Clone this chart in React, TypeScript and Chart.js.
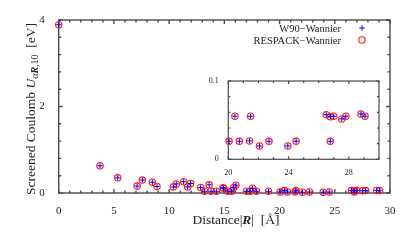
import React, { useEffect, useRef } from "react";
import { Chart, registerables } from "chart.js";

Chart.register(...registerables);

// ---- data ----
const distances = [
  0.0, 3.74, 5.34, 7.1, 7.57, 8.48, 8.9, 10.38, 10.65, 11.32, 11.68, 11.95,
  12.86, 13.22, 13.62, 13.8, 14.28, 14.88, 14.93, 15.3, 15.67, 15.85, 16.05,
  17.0, 17.35, 17.55, 17.9, 19.0, 20.05, 20.44, 20.73, 21.41, 21.48, 22.07,
  22.7, 23.95, 24.5, 26.5, 26.77, 26.77, 27.0, 27.53, 27.8, 28.8, 29.07,
];
const w90Values = [
  3.89, 0.63, 0.35, 0.16, 0.3, 0.25, 0.15, 0.14, 0.21, 0.26, 0.14, 0.22,
  0.13, 0.04, 0.19, 0.04, 0.04, 0.12, 0.11, 0.04, 0.04, 0.13, 0.18,
  0.04, 0.04, 0.11, 0.04, 0.04, 0.023, 0.055, 0.023, 0.0235, 0.055, 0.017,
  0.023, 0.017, 0.023, 0.057, 0.0545, 0.023, 0.055, 0.0515, 0.055, 0.058, 0.055,
];
const respackValues = [
  3.89, 0.63, 0.35, 0.16, 0.3, 0.25, 0.15, 0.14, 0.21, 0.26, 0.14, 0.22,
  0.13, 0.04, 0.19, 0.04, 0.04, 0.12, 0.11, 0.04, 0.04, 0.13, 0.18,
  0.04, 0.04, 0.11, 0.04, 0.04, 0.023, 0.055, 0.023, 0.0235, 0.055, 0.017,
  0.023, 0.017, 0.023, 0.057, 0.0545, 0.023, 0.055, 0.0515, 0.055, 0.058, 0.055,
];
const seriesLabels = ["W90\u2212Wannier", "RESPACK\u2212Wannier"];
const mainXLabels = [0, 5, 10, 15, 20, 25, 30];
const mainYLabels = [0, 2, 4];
const insetXLabels = [20, 24, 28];
const insetYLabels = [0, 0.1];

// ---- styles ----
const SERIF = '"Liberation Serif", "Times New Roman", serif';
const FRAME = "#4a4a4a";
const TEXT = "#222";
const BLUE = "#0000ff";
const RED = "#ff1a1a";

const near = (list: number[], v: number) => list.some((l) => Math.abs(l - v) < 1e-6);

type Run = { text: string; font: string; dy?: number };
function runsWidth(ctx: CanvasRenderingContext2D, runs: Run[]) {
  let w = 0;
  for (const r of runs) {
    ctx.font = r.font;
    w += ctx.measureText(r.text).width;
  }
  return w;
}
function drawRuns(ctx: CanvasRenderingContext2D, runs: Run[], x: number, y: number) {
  let cx = x;
  for (const r of runs) {
    ctx.font = r.font;
    ctx.fillText(r.text, cx, y + (r.dy || 0));
    cx += ctx.measureText(r.text).width;
  }
}

function framePlugin(lw: number, major: number, minor: number) {
  return {
    id: "frame",
    beforeDatasetsDraw(chart: any) {
      const { ctx, chartArea: a, scales } = chart;
      ctx.save();
      ctx.strokeStyle = FRAME;
      ctx.lineWidth = lw;
      ctx.beginPath();
      const xs = scales.x;
      xs.ticks.forEach((t: any) => {
        const p = xs.getPixelForValue(t.value);
        const len = t.label !== "" ? major : minor;
        ctx.moveTo(p, a.bottom);
        ctx.lineTo(p, a.bottom - len);
        ctx.moveTo(p, a.top);
        ctx.lineTo(p, a.top + len);
      });
      const ys = scales.y;
      ys.ticks.forEach((t: any) => {
        const p = ys.getPixelForValue(t.value);
        const len = t.label !== "" ? major : minor;
        ctx.moveTo(a.left, p);
        ctx.lineTo(a.left + len, p);
        ctx.moveTo(a.right, p);
        ctx.lineTo(a.right - len, p);
      });
      ctx.stroke();
      ctx.strokeRect(a.left, a.top, a.right - a.left, a.bottom - a.top);
      ctx.restore();
    },
  };
}

const titlePlugin = {
  id: "titles",
  afterDraw(chart: any) {
    const { ctx } = chart;
    ctx.save();
    ctx.fillStyle = TEXT;
    ctx.textBaseline = "alphabetic";
    ctx.textAlign = "left";
    const fs = 13.5;
    const reg = `${fs}px ${SERIF}`;
    const xRuns: Run[] = [
      { text: "Distance", font: reg },
      { text: "|", font: reg },
      { text: "R", font: `italic bold ${fs}px ${SERIF}` },
      { text: "|", font: reg },
      { text: "  [\u00c5]", font: reg },
    ];
    const xw = runsWidth(ctx, xRuns);
    drawRuns(ctx, xRuns, 236 - xw / 2, 224);

    const sub = 10;
    const yRuns: Run[] = [
      { text: "Screened Coulomb ", font: reg },
      { text: "U", font: `italic ${fs}px ${SERIF}` },
      { text: "\u03b1", font: `italic ${sub}px ${SERIF}`, dy: 3 },
      { text: "R", font: `italic bold ${sub}px ${SERIF}`, dy: 3 },
      { text: ",10", font: `${sub}px ${SERIF}`, dy: 3 },
      { text: "  [eV]", font: reg },
    ];
    const yw = runsWidth(ctx, yRuns);
    ctx.translate(34.5, 109);
    ctx.rotate(-Math.PI / 2);
    drawRuns(ctx, yRuns, -yw / 2, 0);
    ctx.restore();

    // legend
    ctx.save();
    ctx.fillStyle = TEXT;
    ctx.font = `10.5px ${SERIF}`;
    ctx.textAlign = "right";
    ctx.textBaseline = "alphabetic";
    const ds = chart.data.datasets;
    const rows = [31.5, 43.5];
    ds.forEach((d: any, i: number) => {
      ctx.fillText(d.label, 341, rows[i]);
      ctx.strokeStyle = d.borderColor;
      ctx.lineWidth = d.borderWidth;
      ctx.beginPath();
      const cy = rows[i] - 3.5;
      if (d.pointStyle === "cross") {
        const r = 2.8;
        ctx.moveTo(362 - r, cy);
        ctx.lineTo(362 + r, cy);
        ctx.moveTo(362, cy - r);
        ctx.lineTo(362, cy + r);
      } else {
        ctx.arc(362, cy, d.radius, 0, Math.PI * 2);
      }
      ctx.stroke();
    });
    ctx.restore();
  },
};

function makeDatasets(clip: any, crossR: number, circR: number) {
  return [
    {
      label: seriesLabels[0],
      data: distances.map((d, i) => ({ x: d, y: w90Values[i] })),
      pointStyle: "cross",
      radius: crossR,
      borderColor: BLUE,
      backgroundColor: BLUE,
      borderWidth: 1,
      clip,
    },
    {
      label: seriesLabels[1],
      data: distances.map((d, i) => ({ x: d, y: respackValues[i] })),
      pointStyle: "circle",
      radius: circR,
      borderColor: RED,
      backgroundColor: "rgba(0,0,0,0)",
      borderWidth: 1.1,
      clip,
    },
  ];
}

export default function App() {
  const mainRef = useRef<HTMLCanvasElement>(null);
  const insetRef = useRef<HTMLCanvasElement>(null);

  useEffect(() => {
    const tickFont = { family: SERIF, size: 11 };
    const main = new Chart(mainRef.current as HTMLCanvasElement, {
      type: "scatter",
      data: { datasets: makeDatasets(false, 2.6, 3.2) as any },
      options: {
        responsive: false,
        animation: false,
        events: [],
        layout: { padding: { top: 20, right: 26, left: 0, bottom: 0 } },
        plugins: { legend: { display: false }, tooltip: { enabled: false } },
        scales: {
          x: {
            type: "linear",
            min: 0,
            max: 30,
            grid: { display: false },
            border: { display: false },
            ticks: {
              stepSize: 1,
              autoSkip: false,
              maxRotation: 0,
              padding: 4,
              color: TEXT,
              font: tickFont,
              callback: (v: any) => (near(mainXLabels, Number(v)) ? String(v) : ""),
            },
            afterFit: (s: any) => {
              s.height = 53;
            },
          },
          y: {
            type: "linear",
            min: 0,
            max: 4,
            grid: { display: false },
            border: { display: false },
            ticks: {
              stepSize: 0.4,
              autoSkip: false,
              padding: 6,
              color: TEXT,
              font: tickFont,
              callback: (v: any) => {
                const n = Number(v);
                const m = mainYLabels.find((l) => Math.abs(l - n) < 1e-6);
                return m !== undefined ? String(m) : "";
              },
            },
            afterFit: (s: any) => {
              s.width = 58.7;
            },
          },
        },
      },
      plugins: [framePlugin(1.4, 4, 2.5), titlePlugin],
    });

    const insetFont = { family: SERIF, size: 8 };
    const inset = new Chart(insetRef.current as HTMLCanvasElement, {
      type: "scatter",
      data: { datasets: makeDatasets({ left: 5, right: 5, top: 0, bottom: 5 }, 2.6, 3.2) as any },
      options: {
        responsive: false,
        animation: false,
        events: [],
        layout: { padding: { top: 11, right: 11, left: 0, bottom: 0 } },
        plugins: { legend: { display: false }, tooltip: { enabled: false } },
        scales: {
          x: {
            type: "linear",
            min: 20,
            max: 30,
            grid: { display: false },
            border: { display: false },
            ticks: {
              stepSize: 1,
              autoSkip: false,
              maxRotation: 0,
              padding: 1,
              color: TEXT,
              font: insetFont,
              callback: (v: any) => (near(insetXLabels, Number(v)) ? String(v) : ""),
            },
            afterFit: (s: any) => {
              s.height = 15.7;
            },
          },
          y: {
            type: "linear",
            min: 0,
            max: 0.1,
            grid: { display: false },
            border: { display: false },
            ticks: {
              stepSize: 0.02,
              autoSkip: false,
              padding: 1.5,
              color: TEXT,
              font: insetFont,
              callback: (v: any) => {
                const n = Number(v);
                const m = insetYLabels.find((l) => Math.abs(l - n) < 1e-6);
                return m !== undefined ? String(m) : "";
              },
            },
            afterFit: (s: any) => {
              s.width = 38.3;
            },
          },
        },
      },
      plugins: [framePlugin(1.2, 3, 2)],
    });

    return () => {
      main.destroy();
      inset.destroy();
    };
  }, []);

  return (
    <div style={{ position: "absolute", left: 0, top: 0, width: 416, height: 246, background: "#fff" }}>
      <canvas ref={mainRef} width={416} height={246} style={{ position: "absolute", left: 0, top: 0 }} />
      <canvas ref={insetRef} width={200} height={105} style={{ position: "absolute", left: 190, top: 70 }} />
    </div>
  );
}
